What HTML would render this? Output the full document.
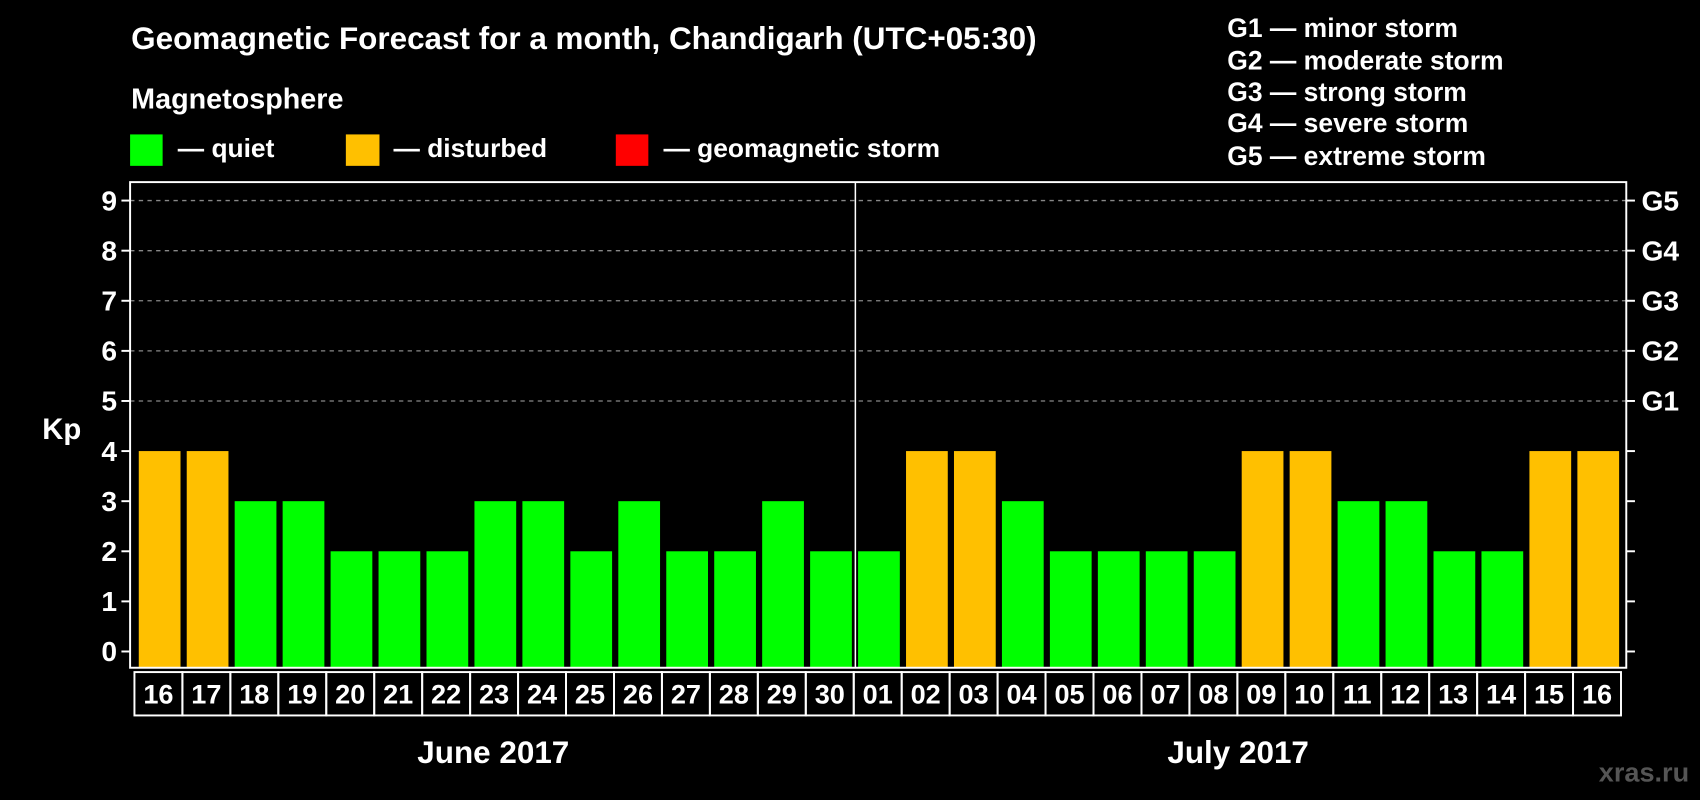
<!DOCTYPE html>
<html><head><meta charset="utf-8"><style>
html,body{margin:0;padding:0;background:#000;}
svg{display:block;font-family:"Liberation Sans",Arial,sans-serif;font-weight:bold;}
</style></head><body>
<svg id="chart" width="1700" height="800" viewBox="0 0 1568 738" preserveAspectRatio="none" xmlns="http://www.w3.org/2000/svg">
<rect width="1568" height="738" fill="#000"/>
<text x="121" y="45" fill="#fff" font-size="29">Geomagnetic Forecast for a month, Chandigarh (UTC+05:30)</text>
<text x="121" y="100" fill="#fff" font-size="26.5">Magnetosphere</text>
<g><rect x="120" y="124" width="30" height="29" fill="#00ff00"/><text x="164" y="145" fill="#fff" font-size="24.3">— quiet</text></g>
<g><rect x="319" y="124" width="31" height="29" fill="#ffc000"/><text x="363" y="145" fill="#fff" font-size="24.3">— disturbed</text></g>
<g><rect x="568" y="124" width="30" height="29" fill="#ff0000"/><text x="612" y="145" fill="#fff" font-size="24.3">— geomagnetic storm</text></g>
<g fill="#fff" font-size="24.4">
<text x="1132" y="34">G1 — minor storm</text>
<text x="1132" y="64">G2 — moderate storm</text>
<text x="1132" y="93">G3 — strong storm</text>
<text x="1132" y="122">G4 — severe storm</text>
<text x="1132" y="152">G5 — extreme storm</text>
</g>
<text x="57" y="405" fill="#fff" font-size="27" text-anchor="middle">Kp</text>
<g id="grid"></g><g id="bars"></g><g id="axes"></g>
<text x="455" y="704" fill="#fff" font-size="29" text-anchor="middle">June 2017</text>
<text x="1142" y="704" fill="#fff" font-size="29" text-anchor="middle">July 2017</text>
<text x="1558" y="721" fill="#555" font-size="25" text-anchor="end">xras.ru</text>
</svg>
<script>
const days = ["16","17","18","19","20","21","22","23","24","25","26","27","28","29","30","01","02","03","04","05","06","07","08","09","10","11","12","13","14","15","16"];
const kpValues = [4,4,3,3,2,2,2,3,3,2,3,2,2,3,2,2,4,4,3,2,2,2,2,4,4,3,3,2,2,4,4];
const yTicks = [0,1,2,3,4,5,6,7,8,9];
const gLabels = ["G1","G2","G3","G4","G5"];
const gLevels = [5,6,7,8,9];
const NS="http://www.w3.org/2000/svg";
const L=120,R=1500,T=168,B=616,Y0=601,UNIT=46.22,SLOT=44.23;
const y=v=>Y0-v*UNIT;
const x=i=>128+i*SLOT;
function mk(tag,attrs,parent){const e=document.createElementNS(NS,tag);for(const k in attrs)e.setAttribute(k,attrs[k]);parent.appendChild(e);return e;}
const grid=document.getElementById('grid'),bars=document.getElementById('bars'),axes=document.getElementById('axes');
yTicks.forEach(v=>{
  if(v>=5){const g=mk('line',{x1:L,x2:R,y1:y(v),y2:y(v),stroke:'#888','stroke-dasharray':'4,4','stroke-width':1.2},grid);
  
  }
  const t=mk('line',{x1:L-8,x2:L,y1:y(v),y2:y(v),stroke:'#fff','stroke-width':1.8},axes);
  
  
  const t2=mk('line',{x1:R,x2:R+8,y1:y(v),y2:y(v),stroke:'#fff','stroke-width':1.8},axes);
  
  
  const lb=mk('text',{x:108,y:y(v)+9,fill:'#fff','font-size':26,'text-anchor':'end'},axes);
  lb.textContent=v;
  
  
});
gLabels.forEach((g,i)=>{
  const lb=mk('text',{x:1514,y:y(gLevels[i])+9,fill:'#fff','font-size':26},axes);
  lb.textContent=g;
  
  
});
kpValues.forEach((v,i)=>{
  const col=v>=5?'#ff0000':(v>=4?'#ffc000':'#00ff00');
  const b=mk('rect',{x:x(i),y:y(v),width:38.5,height:B-y(v),fill:col},bars);
  
  
  const bx=mk('rect',{x:124+i*SLOT,y:620,width:SLOT,height:40,fill:'none',stroke:'#fff','stroke-width':1.8},axes);
  
  
  const lb=mk('text',{x:124+i*SLOT+SLOT/2,y:649,fill:'#fff','font-size':25,'text-anchor':'middle'},axes);
  lb.textContent=days[i];
  
  
});
const fr=mk('rect',{x:L,y:T,width:R-L,height:B-T,fill:'none',stroke:'#fff','stroke-width':1.8},axes);


const sep=mk('line',{x1:x(15)-2.5,x2:x(15)-2.5,y1:T,y2:B,stroke:'#fff','stroke-width':1.4},axes);


</script>
</body></html>
